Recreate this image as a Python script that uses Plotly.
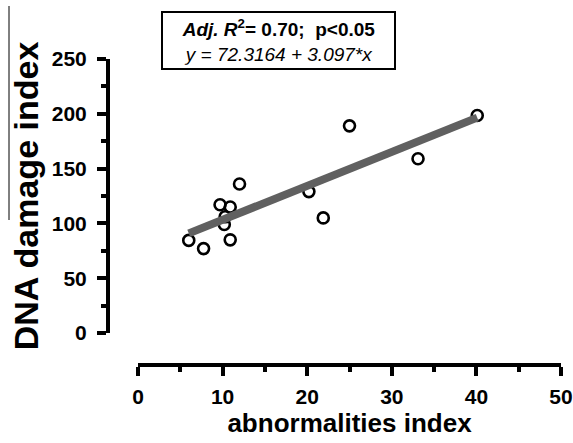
import plotly.graph_objects as go

# Data
abnormalities = [6.0, 7.75, 9.7, 10.9, 10.3, 10.2, 10.9, 12.0, 20.2, 21.9, 25.0, 33.1, 40.1]
dna_damage = [84.5, 77.0, 117.0, 115.0, 106.0, 99.0, 85.0, 136.0, 129.0, 105.0, 189.0, 159.0, 198.5]

intercept = 72.3164
slope = 3.097
fit_x = [min(abnormalities), max(abnormalities)]
fit_y = [intercept + slope * v for v in fit_x]

x_ticks = [0, 10, 20, 30, 40, 50]
y_ticks = [0, 50, 100, 150, 200, 250]

W, H = 573, 443
ml, mr, mt, mb = 108, 12, 59, 78
pw = W - ml - mr
ph = H - mt - mb

fig = go.Figure()
fig.add_trace(go.Scatter(
    x=abnormalities, y=dna_damage, mode="markers",
    marker=dict(symbol="circle-open", size=11, color="black", line=dict(width=2.6, color="black")),
    showlegend=False, cliponaxis=False))
fig.add_trace(go.Scatter(
    x=fit_x, y=fit_y, mode="lines",
    line=dict(color="#606060", width=8),
    showlegend=False, cliponaxis=False))

font_family = "Liberation Sans, Arial, sans-serif"

fig.update_layout(
    width=W, height=H,
    margin=dict(l=ml, r=mr, t=mt, b=mb, autoexpand=False),
    plot_bgcolor="white", paper_bgcolor="white",
    font=dict(family=font_family, color="black"),
    xaxis=dict(
        domain=[(138 - ml) / pw, 1], range=[0, 50], anchor="free", position=0,
        tickvals=x_ticks, ticktext=["<b>%d</b>" % v for v in x_ticks],
        showline=True, linecolor="black", linewidth=4,
        ticks="outside", ticklen=9, tickwidth=4, tickcolor="black",
        minor=dict(dtick=5, ticks="outside", ticklen=5, tickwidth=4, tickcolor="black", showgrid=False),
        showgrid=False, zeroline=False, automargin=False,
        tickfont=dict(size=21, family=font_family, color="black"),
        ticklabelstandoff=3,
        title=dict(text="<b>abnormalities index</b>", font=dict(size=26, family=font_family, color="black"), standoff=6),
    ),
    yaxis=dict(
        domain=[(H - mb - 333) / ph, 1], range=[0, 250], anchor="free", position=0,
        tickvals=y_ticks, ticktext=["<b>%d</b>" % v for v in y_ticks],
        showline=True, linecolor="black", linewidth=4,
        ticks="outside", ticklen=9, tickwidth=4, tickcolor="black",
        minor=dict(dtick=25, ticks="outside", ticklen=5, tickwidth=4, tickcolor="black", showgrid=False),
        showgrid=False, zeroline=False, automargin=False,
        tickfont=dict(size=21, family=font_family, color="black"),
        ticklabelstandoff=6,
        title=dict(text="<b>DNA damage index</b>", font=dict(size=34, family=font_family, color="black"), standoff=2),
    ),
    annotations=[dict(
        x=(278.5 - ml) / pw, y=(H - mb - 40) / ph, xref="paper", yref="paper",
        xanchor="center", yanchor="middle", showarrow=False, align="center",
        text="<b><i>Adj. R</i><sup>2</sup>= 0.70;&nbsp;&nbsp;p&lt;0.05</b><br><i>y = 72.3164 + 3.097*x</i>",
        font=dict(size=19, family=font_family, color="black"),
        bordercolor="black", borderwidth=2, borderpad=3, bgcolor="white",
        width=225,
    )],
    shapes=[dict(type="line", xref="paper", yref="paper",
                 x0=(9 - ml) / pw, x1=(9 - ml) / pw,
                 y0=(H - mb - 6) / ph, y1=(H - mb - 220) / ph,
                 line=dict(color="black", width=1))],
)

fig.write_html("out.html", config={"displayModeBar": False},
               post_script="document.body.style.margin='0';")
